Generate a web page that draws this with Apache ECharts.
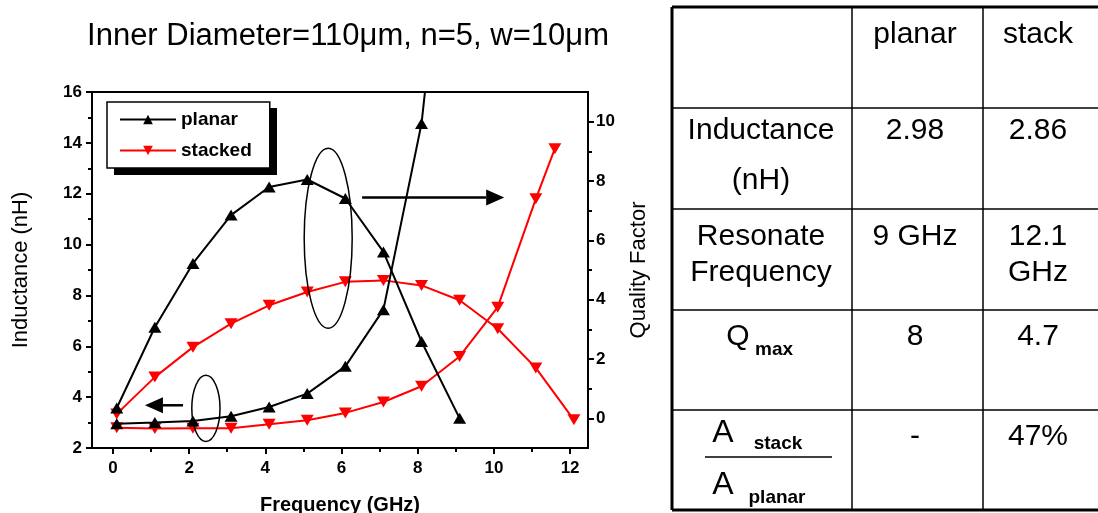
<!DOCTYPE html>
<html>
<head>
<meta charset="utf-8">
<script src="https://cdn.jsdelivr.net/npm/echarts@6/dist/echarts.min.js"></script>
<style>
html,body{margin:0;padding:0;background:#fff;}
#c{width:1098px;height:513px;}
</style>
</head>
<body>
<div id="c"></div>
<script>
// ---- data ----
const planarFreq = [0.1, 1.1, 2.1, 3.1, 4.1, 5.1, 6.1, 7.1, 8.1, 9.1];
const planarL    = [2.95, 3.0, 3.06, 3.25, 3.61, 4.14, 5.21, 7.44, 14.76, 28.5];
const planarQ    = [0.35, 3.07, 5.22, 6.85, 7.8, 8.05, 7.41, 5.61, 2.59, 0.0];
const stackQFreq = [0.1, 1.1, 2.1, 3.1, 4.1, 5.1, 6.1, 7.1, 8.1, 9.1, 10.1, 11.1, 12.1];
const stackQ     = [0.15, 1.39, 2.4, 3.19, 3.81, 4.26, 4.6, 4.65, 4.48, 3.98, 3.02, 1.7, -0.05];
const stackLFreq = [0.1, 1.1, 2.1, 3.1, 4.1, 5.1, 6.1, 7.1, 8.1, 9.1, 10.1, 11.1, 11.6];
const stackL     = [2.8, 2.77, 2.78, 2.78, 2.93, 3.09, 3.38, 3.81, 4.43, 5.6, 7.54, 11.8, 13.77];

const xTickLabels = [0, 2, 4, 6, 8, 10, 12];
const xMinorTicks = [1, 3, 5, 7, 9, 11];
const qTickLabels = [0, 2, 4, 6, 8, 10];
const qMinorTicks = [1, 3, 5, 7, 9];

const titleText = 'Inner Diameter=110\u03bcm, n=5, w=10\u03bcm';
const tableHeader = ['', 'planar', 'stack'];
const tableRows = [
  [['Inductance', '(nH)'], ['2.98'], ['2.86']],
  [['Resonate', 'Frequency'], ['9 GHz'], ['12.1', 'GHz']],
  [['Q'], ['8'], ['4.7']],
  [['A'], ['-'], ['47%']]
];

const FONT = '"Liberation Sans", Arial, sans-serif';
const zip = (a, b) => a.map((v, i) => [v, b[i]]);
const downTri = 'path://M0,0 L10,0 L5,9 Z';

const chart = echarts.init(document.getElementById('c'), null, {renderer: 'canvas'});

const tickLabelStyle = {color: '#000', fontSize: 17, fontWeight: 'bold', fontFamily: FONT};

const option = {
  animation: false,
  backgroundColor: '#fff',
  title: {
    text: titleText, left: 343, top: 16, textAlign: 'center',
    textStyle: {fontSize: 31, fontWeight: 'normal', color: '#000', fontFamily: FONT}
  },
  grid: {left: 92, top: 92, width: 496, height: 356, show: true, borderColor: '#000', borderWidth: 2,
    backgroundColor: 'transparent', containLabel: false, outerBoundsMode: 'none'},
  legend: {
    orient: 'vertical', left: 107, top: 102, z: 6,
    data: ['planar', 'stacked'],
    itemWidth: 56, itemHeight: 12, itemGap: 12,
    padding: [8, 18, 8, 12],
    borderColor: '#000', borderWidth: 1.5, backgroundColor: '#fff',
    textStyle: {fontSize: 19, fontWeight: 'bold', color: '#000', fontFamily: FONT}
  },
  xAxis: [
    {
      type: 'value', min: -0.55, max: 12.47, position: 'bottom',
      name: 'Frequency (GHz)', nameLocation: 'middle', nameGap: 47,
      nameTextStyle: {fontSize: 20, fontWeight: 'bold', color: '#000', fontFamily: FONT},
      axisLine: {show: true, onZero: false, lineStyle: {color: '#000', width: 2}},
      axisTick: {show: true, length: 6, lineStyle: {color: '#000', width: 2}, customValues: xTickLabels},
      axisLabel: {show: true, margin: 12, customValues: xTickLabels, ...tickLabelStyle},
      splitLine: {show: false}
    },
    {
      type: 'value', min: -0.55, max: 12.47, position: 'bottom',
      axisLine: {show: false, onZero: false},
      axisTick: {show: true, length: 4, lineStyle: {color: '#000', width: 2}, customValues: xMinorTicks},
      axisLabel: {show: false},
      splitLine: {show: false}
    }
  ],
  yAxis: [
    {
      type: 'value', min: 2, max: 16, interval: 2, position: 'left',
      name: 'Inductance (nH)', nameLocation: 'middle', nameGap: 60, nameRotate: 90,
      nameTextStyle: {fontSize: 22, color: '#000', fontFamily: FONT},
      axisLine: {show: true, onZero: false, lineStyle: {color: '#000', width: 2}},
      axisTick: {show: true, length: 6, lineStyle: {color: '#000', width: 2}},
      minorTick: {show: true, splitNumber: 2, length: 4, lineStyle: {color: '#000', width: 2}},
      axisLabel: {margin: 10, ...tickLabelStyle},
      splitLine: {show: false}, minorSplitLine: {show: false}
    },
    {
      type: 'value', min: -1, max: 11, position: 'right',
      name: 'Quality Factor', nameLocation: 'middle', nameGap: 40, nameRotate: 90,
      nameTextStyle: {fontSize: 22, color: '#000', fontFamily: FONT},
      axisLine: {show: true, onZero: false, lineStyle: {color: '#000', width: 2}},
      axisTick: {show: true, length: 6, lineStyle: {color: '#000', width: 2}, customValues: qTickLabels},
      axisLabel: {margin: 8, customValues: qTickLabels, ...tickLabelStyle},
      splitLine: {show: false}
    },
    {
      type: 'value', min: -1, max: 11, position: 'right',
      axisLine: {show: false, onZero: false},
      axisTick: {show: true, length: 4, lineStyle: {color: '#000', width: 2}, customValues: qMinorTicks},
      axisLabel: {show: false},
      splitLine: {show: false}
    }
  ],
  series: [
    {name: 'planar', type: 'line', xAxisIndex: 0, yAxisIndex: 0, data: zip(planarFreq, planarL),
     symbol: 'triangle', symbolSize: [13, 11], color: '#000', itemStyle: {color: '#000'},
     lineStyle: {color: '#000', width: 2}, clip: true, z: 3},
    {name: 'planar', type: 'line', xAxisIndex: 0, yAxisIndex: 1, data: zip(planarFreq, planarQ),
     symbol: 'triangle', symbolSize: [13, 11], color: '#000', itemStyle: {color: '#000'},
     lineStyle: {color: '#000', width: 2}, clip: true, z: 3},
    {name: 'stacked', type: 'line', xAxisIndex: 0, yAxisIndex: 0, data: zip(stackLFreq, stackL),
     symbol: downTri, symbolSize: [13, 11], color: '#ff0000', itemStyle: {color: '#ff0000'},
     lineStyle: {color: '#ff0000', width: 2}, clip: true, z: 2},
    {name: 'stacked', type: 'line', xAxisIndex: 0, yAxisIndex: 1, data: zip(stackQFreq, stackQ),
     symbol: downTri, symbolSize: [13, 11], color: '#ff0000', itemStyle: {color: '#ff0000'},
     lineStyle: {color: '#ff0000', width: 2}, clip: true, z: 2}
  ]
};
chart.setOption(option);

// ---- annotations (defined in data coordinates of the inductance axis) ----
const annoEllipses = [
  {x: 5.65, y: 10.25, rx: 0.63, ry: 3.54},
  {x: 2.44, y: 3.56, rx: 0.37, ry: 1.3}
];
const annoArrows = [
  {from: [6.54, 11.85], to: [10.27, 11.85]},
  {from: [1.84, 3.68], to: [0.84, 3.68]}
];

const toPx = p => chart.convertToPixel({xAxisIndex: 0, yAxisIndex: 0}, p);
const graphics = [];
// legend drop shadow (solid offset box behind the legend)
graphics.push({type: 'rect', z: 5, shape: {x: 114, y: 108, width: 163, height: 67}, style: {fill: '#000'}});
annoEllipses.forEach(e => {
  const c = toPx([e.x, e.y]);
  const r = toPx([e.x + e.rx, e.y + e.ry]);
  graphics.push({type: 'ellipse', z: 10, shape: {cx: c[0], cy: c[1], rx: Math.abs(r[0] - c[0]), ry: Math.abs(c[1] - r[1])},
    style: {fill: 'none', stroke: '#000', lineWidth: 1.5}});
});
annoArrows.forEach(a => {
  const p0 = toPx(a.from), p1 = toPx(a.to);
  const dir = Math.sign(p1[0] - p0[0]);
  const headLen = 18, headHalf = 8;
  graphics.push({type: 'line', z: 10, shape: {x1: p0[0], y1: p0[1], x2: p1[0] - dir * headLen, y2: p1[1]},
    style: {stroke: '#000', lineWidth: 2.5}});
  graphics.push({type: 'polygon', z: 10, shape: {points: [[p1[0], p1[1]], [p1[0] - dir * headLen, p1[1] - headHalf], [p1[0] - dir * headLen, p1[1] + headHalf]]},
    style: {fill: '#000'}});
});

// ---- table ----
const colX = [672, 852, 983, 1100];
const rowY = [7, 108, 209, 310, 410, 510];
const colC = [761, 915, 1038];
const TF = 30;
function txt(s, x, y, size, weight) {
  return {type: 'text', z: 10, style: {text: s, x: x, y: y, fill: '#000', fontSize: size || TF, fontWeight: weight || 'normal',
    fontFamily: FONT, align: 'center', verticalAlign: 'middle', textAlign: 'center', textVerticalAlign: 'middle'}};
}
// grid lines
graphics.push({type: 'line', z: 10, shape: {x1: colX[0], y1: rowY[0], x2: 1098, y2: rowY[0]}, style: {stroke: '#000', lineWidth: 3}});
graphics.push({type: 'line', z: 10, shape: {x1: colX[0], y1: rowY[5], x2: 1098, y2: rowY[5]}, style: {stroke: '#000', lineWidth: 3}});
graphics.push({type: 'line', z: 10, shape: {x1: colX[0], y1: rowY[0], x2: colX[0], y2: rowY[5]}, style: {stroke: '#000', lineWidth: 3}});
[colX[1], colX[2]].forEach(x => graphics.push({type: 'line', z: 10, shape: {x1: x, y1: rowY[0], x2: x, y2: rowY[5]}, style: {stroke: '#000', lineWidth: 1.5}}));
[rowY[1], rowY[2], rowY[3], rowY[4]].forEach(y => graphics.push({type: 'line', z: 10, shape: {x1: colX[0], y1: y, x2: 1098, y2: y}, style: {stroke: '#000', lineWidth: 1.5}}));

// header
graphics.push(txt(tableHeader[1], colC[1], 35));
graphics.push(txt(tableHeader[2], colC[2], 35));
// row 1: inductance
graphics.push(txt(tableRows[0][0][0], colC[0], 131));
graphics.push(txt(tableRows[0][0][1], colC[0], 181));
graphics.push(txt(tableRows[0][1][0], colC[1], 131));
graphics.push(txt(tableRows[0][2][0], colC[2], 131));
// row 2: resonate frequency
graphics.push(txt(tableRows[1][0][0], colC[0], 237));
graphics.push(txt(tableRows[1][0][1], colC[0], 273));
graphics.push(txt(tableRows[1][1][0], colC[1], 237));
graphics.push(txt(tableRows[1][2][0], colC[2], 237));
graphics.push(txt(tableRows[1][2][1], colC[2], 273));
// row 3: Q max
graphics.push(txt(tableRows[2][0][0], 738, 337));
graphics.push(txt('max', 774, 350, 19, 'bold'));
graphics.push(txt(tableRows[2][1][0], colC[1], 337));
graphics.push(txt(tableRows[2][2][0], colC[2], 337));
// row 4: area ratio
graphics.push(txt(tableRows[3][0][0], 723, 433, 32));
graphics.push(txt('stack', 778, 444, 19, 'bold'));
graphics.push({type: 'line', z: 10, shape: {x1: 705, y1: 457, x2: 832, y2: 457}, style: {stroke: '#000', lineWidth: 1.5}});
graphics.push(txt(tableRows[3][0][0], 723, 485, 32));
graphics.push(txt('planar', 777, 498, 19, 'bold'));
graphics.push(txt(tableRows[3][1][0], colC[1], 437));
graphics.push(txt(tableRows[3][2][0], colC[2], 437));

chart.setOption({graphic: graphics});
</script>
</body>
</html>
